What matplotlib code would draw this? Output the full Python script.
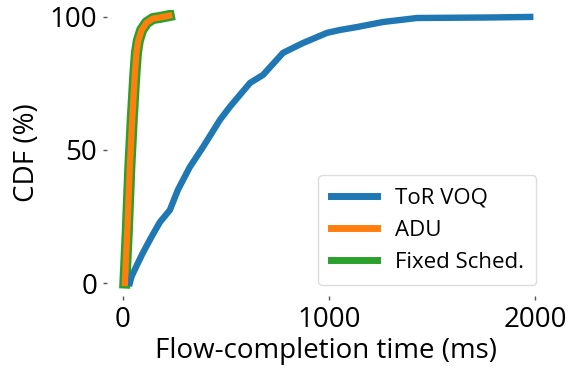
import numpy as np
import matplotlib
matplotlib.use("Agg")
from matplotlib import pyplot as plt

plt.rcParams['font.family'] = ['Open Sans', 'DejaVu Sans']

# flow-completion time (ms) vs CDF (%)
tor_ms = [34, 42, 70, 97, 140, 180, 228, 267, 325, 388, 471, 519, 617, 680, 777, 874, 990, 1053, 1136, 1262, 1427, 1782, 1976]
tor_cdf = [0, 2.4, 7, 11.3, 17.5, 22.9, 27.4, 35, 43.6, 51, 61.3, 66.2, 75.2, 78.2, 86.5, 90.2, 94, 95.1, 96.2, 98.1, 99.6, 99.8, 100]

adu_ms = [10, 22, 34, 46, 58, 66, 75, 91, 115, 146, 180, 225]
adu_cdf = [0, 20, 43.6, 62, 78, 86.5, 91, 95, 97.8, 99.4, 99.8, 100.5]

fixed_ms = [10, 22, 34, 46, 58, 66, 75, 91, 115, 146, 180, 225]
fixed_cdf = [0, 20, 43.6, 62, 78, 86.5, 91, 95, 97.8, 99.4, 99.8, 100.5]

fig = plt.figure(figsize=(5.77, 3.71), dpi=100)
ax = fig.add_axes([0.185, 0.202, 0.76, 0.771])

l1, = ax.plot(tor_ms, tor_cdf, color='#1f77b4', lw=4.6, label='ToR VOQ', zorder=3)
l3, = ax.plot(fixed_ms, fixed_cdf, color='#2ca02c', lw=8, label='Fixed Sched.', zorder=2)
l2, = ax.plot(adu_ms, adu_cdf, color='#ff7f0e', lw=4.5, label='ADU', zorder=4)

ax.set_xlim(-78, 2049)
ax.set_ylim(-4.9, 102.6)
ax.set_xticks([0, 1000, 2000])
ax.set_yticks([0, 50, 100])
for s in ax.spines.values():
    s.set_visible(False)
ax.tick_params(labelsize=20, length=3, width=1, color='#555555', pad=4)
ax.set_xlabel('Flow-completion time (ms)', fontsize=20, labelpad=2)
ax.set_ylabel('CDF (%)', fontsize=20, labelpad=6)

leg = ax.legend([l1, l2, l3], ['ToR VOQ', 'ADU', 'Fixed Sched.'], loc='lower right',
                bbox_to_anchor=(1.005, 0.0), fontsize=16, handlelength=2.1,
                labelspacing=0.5, borderpad=0.55, framealpha=1, edgecolor='#dddddd')
for h in leg.get_lines():
    h.set_linewidth(5)

fig.savefig('out.png', dpi=100)
